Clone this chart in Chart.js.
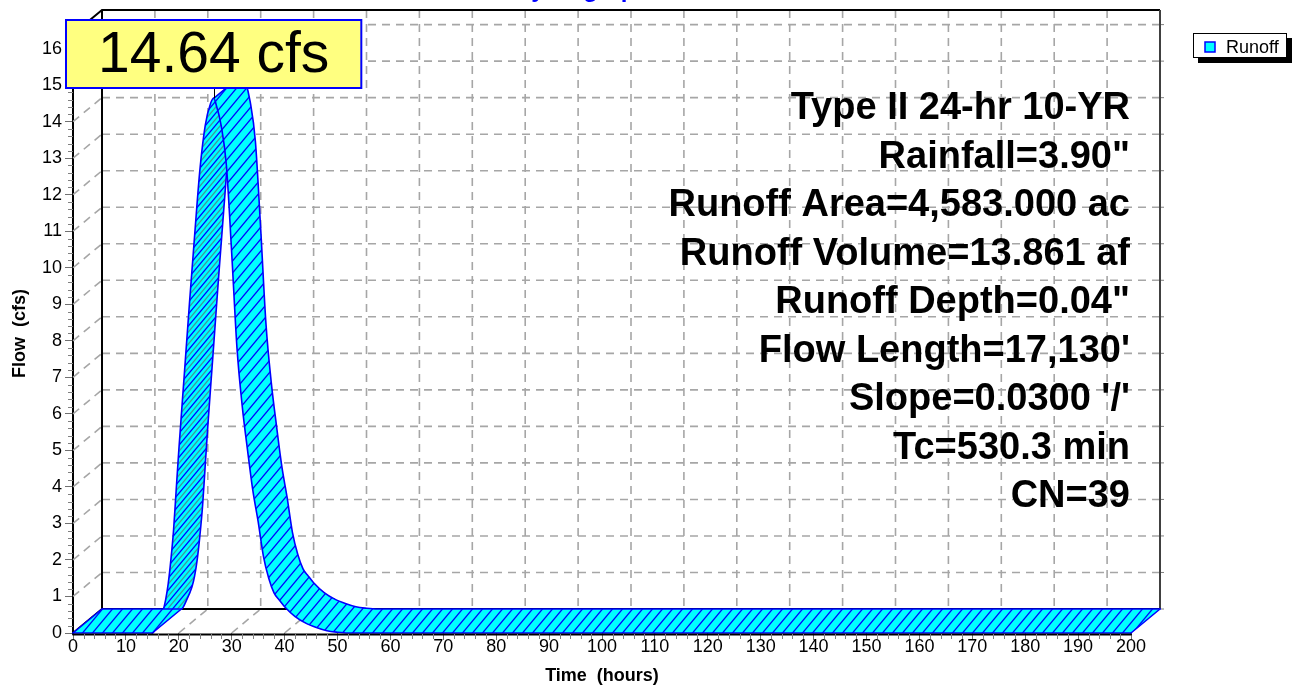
<!DOCTYPE html>
<html>
<head>
<meta charset="utf-8">
<title>Hydrograph</title>
<script src="https://cdn.jsdelivr.net/npm/chart.js@4.4.1/dist/chart.umd.min.js"></script>
<style>
  html, body { margin: 0; padding: 0; background: #fff; }
  canvas { display: block; }
</style>
</head>
<body>
<canvas id="hydrograph" width="1294" height="687"></canvas>
<script>
var FONT = "'Liberation Sans', Arial, Helvetica, sans-serif";
Chart.defaults.font.family = FONT;

// Runoff hydrograph: time (hours) vs flow (cfs)
var times = [0, 15, 16, 17, 17.5, 18, 18.5, 19, 19.5, 20, 21, 22, 23, 24, 25, 26, 26.6,
   27, 28, 29, 30, 31, 32, 33, 34, 35, 36, 37, 38, 39, 40, 42, 44, 46, 48, 50, 52, 200];
var flows = [0, 0, 0.25, 0.6, 0.9, 1.35, 2.0, 2.8, 3.9, 5.0, 7.0, 9.0, 10.9, 12.7, 13.9, 14.5, 14.64,
   14.5, 13.9, 12.8, 10.4, 7.8, 6.2, 5.0, 3.9, 3.05, 2.1, 1.5, 1.1, 0.9, 0.72, 0.45, 0.27, 0.15, 0.06, 0.02, 0, 0];

var seriesName = 'Runoff';
var chartTitle = 'Hydrograph';
var xTitle = 'Time  (hours)';
var yTitle = 'Flow  (cfs)';
var xRange = [0, 200];
var yRange = [0, 16.4];
var xStep = 10, xMinorStep = 2;
var yStep = 1, yMinorStep = 0.2;

var infoLines = [
   'Type II 24-hr 10-YR',
   'Rainfall=3.90"',
   'Runoff Area=4,583.000 ac',
   'Runoff Volume=13.861 af',
   'Runoff Depth=0.04"',
   "Flow Length=17,130'",
   "Slope=0.0300 '/'",
   'Tc=530.3 min',
   'CN=39'
];

// depth of the 3D box in pixels (back wall is up and to the right)
var DX = 29, DY = -24;

function line(ctx, x1, y1, x2, y2) {
   ctx.beginPath();
   ctx.moveTo(x1, y1);
   ctx.lineTo(x2, y2);
   ctx.stroke();
}

// cyan fill with diagonal hatching
function hatch(ctx, colors) {
   var c = document.createElement('canvas');
   c.width = 10; c.height = 12;
   var g = c.getContext('2d');
   g.fillStyle = '#00ffff';
   g.fillRect(0, 0, 10, 12);
   g.lineWidth = 1.3;
   colors.forEach(function (col, k) {
      g.strokeStyle = col;
      for (var s = -10; s <= 10; s += 10) {
         var o = s + k * 5;
         g.beginPath();
         g.moveTo(o - 0.84, 13);
         g.lineTo(o + 10.84, -1);
         g.stroke();
      }
   });
   return ctx.createPattern(c, 'repeat');
}

function curve(ctx, a, b, ox, oy) {
   ctx.bezierCurveTo(a.cp2x + ox, a.cp2y + oy, b.cp1x + ox, b.cp1y + oy, b.x + ox, b.y + oy);
}
function curveBack(ctx, a, b, ox, oy) {
   ctx.bezierCurveTo(b.cp1x + ox, b.cp1y + oy, a.cp2x + ox, a.cp2y + oy, a.x + ox, a.y + oy);
}

function paintFaces(ctx, pts, idx, fill) {
   if (!idx.length) return;
   ctx.fillStyle = fill;
   ctx.beginPath();
   idx.forEach(function (i) {
      var a = pts[i], b = pts[i + 1];
      ctx.moveTo(a.x, a.y);
      curve(ctx, a, b, 0, 0);
      ctx.lineTo(b.x + DX, b.y + DY);
      curveBack(ctx, a, b, DX, DY);
      ctx.closePath();
   });
   ctx.fill();
   ctx.beginPath();
   idx.forEach(function (i) {
      var a = pts[i], b = pts[i + 1];
      ctx.moveTo(a.x, a.y);
      curve(ctx, a, b, 0, 0);
      ctx.moveTo(a.x + DX, a.y + DY);
      curve(ctx, a, b, DX, DY);
   });
   ctx.stroke();
}

function drawWalls(chart) {
   var ctx = chart.ctx, a = chart.chartArea, xs = chart.scales.x, ys = chart.scales.y;
   var bl = a.left + DX, br = a.right + DX, bt = a.top + DY, bb = a.bottom + DY;
   ctx.save();
   ctx.strokeStyle = '#a6a6a6';
   ctx.lineWidth = 1.6;
   ctx.setLineDash([8, 6]);
   ys.ticks.forEach(function (t) {
      if (t.value <= yRange[0]) return;
      var y = ys.getPixelForValue(t.value);
      line(ctx, bl, y + DY, br, y + DY);
      line(ctx, a.left, y, bl, y + DY);
   });
   xs.ticks.forEach(function (t) {
      if (t.value <= xRange[0] || t.value >= xRange[1]) return;
      var x = xs.getPixelForValue(t.value);
      line(ctx, x + DX, bt, x + DX, bb);
      line(ctx, x, a.bottom, x + DX, bb);
   });
   ctx.setLineDash([]);

   // small ticks on the right edge of the back wall
   ctx.strokeStyle = '#808080';
   ctx.lineWidth = 1;
   ys.ticks.forEach(function (t) {
      var y = ys.getPixelForValue(t.value) + DY;
      line(ctx, br, y, br + 4, y);
   });

   ctx.strokeStyle = '#000';
   ctx.lineWidth = 2;
   ctx.beginPath();
   ctx.moveTo(a.left, a.top);
   ctx.lineTo(bl, bt);
   ctx.lineTo(br, bt);
   ctx.moveTo(bl, bt);
   ctx.lineTo(bl, bb);
   ctx.lineTo(br, bb);
   ctx.moveTo(a.left, a.bottom);
   ctx.lineTo(bl, bb);
   ctx.stroke();
   ctx.strokeStyle = '#404040';
   line(ctx, br, bt, br, bb);
   ctx.restore();
}

function drawRibbon(chart) {
   var ctx = chart.ctx, a = chart.chartArea;
   var meta = chart.getDatasetMeta(0);
   meta.dataset.updateControlPoints(a, 'x');
   var pts = meta.data;

   // rising segments show the underside of the ribbon
   var under = [], top = [], face = [];
   for (var i = 0; i < pts.length - 1; i++) {
      var p = pts[i], q = pts[i + 1];
      var cross = (q.x - p.x) * DY - (q.y - p.y) * DX;
      face.push(cross > 0 ? 1 : 0);
      (cross > 0 ? under : top).push(i);
   }

   ctx.save();
   ctx.strokeStyle = '#0000ff';
   ctx.lineWidth = 1.6;
   ctx.lineJoin = 'round';
   ctx.lineCap = 'round';
   paintFaces(ctx, pts, under, hatch(ctx, ['#0000ff', '#3f9a9a']));
   paintFaces(ctx, pts, top, hatch(ctx, ['#0000ff']));

   // ends of the ribbon and folds between faces
   ctx.beginPath();
   for (i = 0; i < pts.length; i++) {
      if (i === 0 || i === pts.length - 1 || face[i] !== face[i - 1]) {
         ctx.moveTo(pts[i].x, pts[i].y);
         ctx.lineTo(pts[i].x + DX, pts[i].y + DY);
      }
   }
   ctx.stroke();

   // front time axis
   ctx.strokeStyle = '#000';
   ctx.lineWidth = 2;
   line(ctx, a.left, a.bottom + 1.5, a.right, a.bottom + 1.5);
   ctx.restore();
}

function drawExtras(chart) {
   var ctx = chart.ctx, a = chart.chartArea, xs = chart.scales.x, ys = chart.scales.y;
   ctx.save();

   // minor ticks
   ctx.strokeStyle = '#808080';
   ctx.lineWidth = 1;
   var n = Math.round((yRange[1] - yRange[0]) / yMinorStep);
   for (var k = 1; k <= n; k++) {
      if (k % Math.round(yStep / yMinorStep) === 0) continue;
      var y = Math.round(ys.getPixelForValue(yRange[0] + k * yMinorStep)) + 0.5;
      line(ctx, a.left - 5, y, a.left, y);
   }
   n = Math.round((xRange[1] - xRange[0]) / xMinorStep);
   for (k = 1; k < n; k++) {
      if (k % Math.round(xStep / xMinorStep) === 0) continue;
      var x = Math.round(xs.getPixelForValue(xRange[0] + k * xMinorStep)) + 0.5;
      line(ctx, x, a.bottom + 1, x, a.bottom + 6);
   }

   // title, mostly above the top edge
   ctx.fillStyle = '#0000ff';
   ctx.font = 'bold 24px ' + FONT;
   ctx.textAlign = 'center';
   ctx.textBaseline = 'alphabetic';
   ctx.fillText(chartTitle, 582, -3);

   // axis titles
   ctx.fillStyle = '#000';
   ctx.font = 'bold 18px ' + FONT;
   ctx.fillText(xTitle, (a.left + a.right) / 2, 681);
   ctx.save();
   ctx.translate(25, (a.top + a.bottom) / 2);
   ctx.rotate(-Math.PI / 2);
   ctx.fillText(yTitle, 0, 0);
   ctx.restore();

   // storm and watershed summary
   ctx.font = 'bold 38px ' + FONT;
   ctx.textAlign = 'right';
   infoLines.forEach(function (s, i) {
      ctx.fillText(s, a.right - 1, 119 + i * 48.5);
   });

   // peak flow callout
   var meta = chart.getDatasetMeta(0);
   var peak = 0;
   flows.forEach(function (v, i) { if (v > flows[peak]) peak = i; });
   var pk = meta.data[peak];
   var label = flows[peak].toFixed(2) + ' cfs';
   ctx.font = '57px ' + FONT;
   var w = ctx.measureText(label).width + 64, h = 68;
   var bx = Math.round(pk.x - w / 2), by = Math.round(pk.y - 10 - h);
   ctx.strokeStyle = '#000';
   ctx.lineWidth = 1;
   line(ctx, Math.round(pk.x) + 0.5, by + h, Math.round(pk.x) + 0.5, pk.y);
   ctx.fillStyle = '#ffff80';
   ctx.fillRect(bx, by, w, h);
   ctx.strokeStyle = '#0000ff';
   ctx.lineWidth = 2;
   ctx.strokeRect(bx, by, w, h);
   ctx.fillStyle = '#000';
   ctx.textAlign = 'center';
   ctx.textBaseline = 'middle';
   ctx.fillText(label, bx + w / 2, by + h / 2 + 2);

   // legend with drop shadow
   var lx = 1193, ly = 33, lw = 94, lh = 25;
   ctx.fillStyle = '#000';
   ctx.fillRect(lx + 5, ly + 5, lw, lh);
   ctx.fillStyle = '#fff';
   ctx.fillRect(lx, ly, lw, lh);
   ctx.strokeStyle = '#000';
   ctx.lineWidth = 1;
   ctx.strokeRect(lx + 0.5, ly + 0.5, lw - 1, lh - 1);
   ctx.fillStyle = '#00ffff';
   ctx.fillRect(lx + 12, ly + 9, 10, 10);
   ctx.strokeStyle = '#0000ff';
   ctx.lineWidth = 1.5;
   ctx.strokeRect(lx + 12, ly + 9, 10, 10);
   ctx.fillStyle = '#000';
   ctx.font = '18px ' + FONT;
   ctx.textAlign = 'left';
   ctx.textBaseline = 'alphabetic';
   ctx.fillText(chart.data.datasets[0].label, lx + 33, ly + 20);

   ctx.restore();
}

var box3d = {
   id: 'box3d',
   beforeDatasetsDraw: function (chart) { drawWalls(chart); },
   afterDatasetsDraw: function (chart) { drawRibbon(chart); },
   afterDraw: function (chart) { drawExtras(chart); }
};

window.onload = function () {
   var ctx = document.getElementById('hydrograph').getContext('2d');
   window.hydroChart = new Chart(ctx, {
      type: 'line',
      data: {
         datasets: [{
            label: seriesName,
            data: times.map(function (t, i) { return {x: t, y: flows[i]}; }),
            showLine: false,
            pointRadius: 0,
            pointHoverRadius: 0,
            cubicInterpolationMode: 'monotone',
            borderColor: '#0000ff',
            backgroundColor: '#00ffff'
         }]
      },
      options: {
         responsive: false,
         animation: false,
         events: [],
         layout: {
            padding: {top: 34, right: 163, bottom: 0, left: 0}
         },
         plugins: {
            legend: {display: false},
            title: {display: false},
            tooltip: {enabled: false}
         },
         scales: {
            x: {
               type: 'linear',
               min: xRange[0],
               max: xRange[1],
               afterFit: function (s) { s.height = 54; },
               border: {display: false},
               grid: {
                  drawOnChartArea: false,
                  drawTicks: true,
                  tickLength: 7,
                  tickColor: '#707070',
                  color: '#707070'
               },
               ticks: {
                  stepSize: xStep,
                  includeBounds: false,
                  autoSkip: false,
                  maxRotation: 0,
                  padding: -2,
                  color: '#000',
                  font: {size: 18, lineHeight: 1}
               }
            },
            y: {
               type: 'linear',
               min: yRange[0],
               max: yRange[1],
               afterFit: function (s) { s.width = 73; },
               border: {display: true, color: '#000', width: 2},
               grid: {
                  drawOnChartArea: false,
                  drawTicks: true,
                  tickLength: 8,
                  tickColor: '#707070',
                  color: '#707070'
               },
               ticks: {
                  stepSize: yStep,
                  includeBounds: false,
                  autoSkip: false,
                  padding: 3,
                  color: '#000',
                  font: {size: 18}
               }
            }
         }
      },
      plugins: [box3d]
   });
};
</script>
</body>
</html>
